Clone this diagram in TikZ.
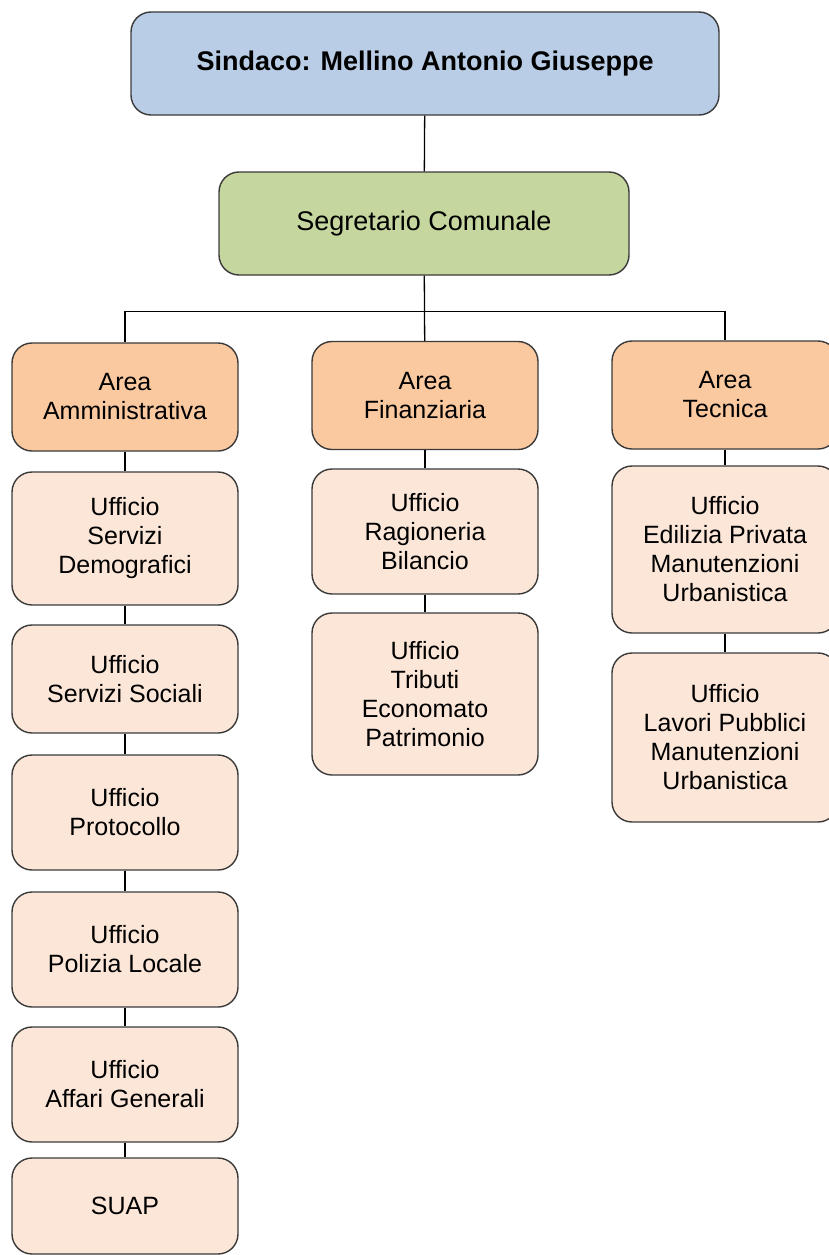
\documentclass[tikz,border=0pt]{standalone}
\usepackage{fontspec}
\setmainfont{Liberation Sans}
\usetikzlibrary{positioning,calc}
\definecolor{cSindaco}{HTML}{BACDE6}
\definecolor{cSegr}{HTML}{C5D79E}
\definecolor{cArea}{HTML}{FBC9A0}
\definecolor{cUff}{HTML}{FCE6D8}
\definecolor{cEdge}{HTML}{3A3A3A}
\tikzset{BOX/.style={rectangle, rounded corners=20pt, draw=cEdge, line width=1.4pt, align=center, inner sep=2pt, minimum width=226pt, font=\fontsize{25}{29}\selectfont}}
\tikzset{TOP/.style={BOX, font=\fontsize{27}{31}\selectfont}}
\tikzset{AREA/.style={BOX, fill=cArea, minimum height=108pt}}
\tikzset{UFF/.style={BOX, fill=cUff}}
\tikzset{LINK/.style={line width=1.3pt, black}}

\begin{document}
\begin{tikzpicture}[x=1pt, y=-1pt]
    \useasboundingbox (0,0) rectangle (829,1255);

    \node[TOP, fill=cSindaco, minimum width=588pt, minimum height=103pt] (n_sindaco) at (425,63.5) {\textbf{Sindaco: Mellino Antonio Giuseppe}};
    \node[TOP, fill=cSegr, minimum width=410pt, minimum height=103pt] (n_segr) at (424,223.5) {Segretario Comunale};

    % aree
    \node[AREA] (n_amm) at (125,397) {Area\\Amministrativa};
    \node[AREA] (n_fin) at (425,395.5) {Area\\Finanziaria};
    \node[AREA] (n_tec) at (725,395) {Area\\Tecnica};

    % uffici area amministrativa
    \node[UFF, minimum height=133pt] (n_demo) at (125,538.5) {Ufficio\\Servizi\\Demografici};
    \node[UFF, minimum height=108pt] (n_soc) at (125,679) {Ufficio\\Servizi Sociali};
    \node[UFF, minimum height=115pt] (n_prot) at (125,812.5) {Ufficio\\Protocollo};
    \node[UFF, minimum height=115pt] (n_pol) at (125,949.5) {Ufficio\\Polizia Locale};
    \node[UFF, minimum height=115pt] (n_aff) at (125,1084.5) {Ufficio\\Affari Generali};
    \node[UFF, minimum height=96pt] (n_suap) at (125,1206) {SUAP};

    % uffici area finanziaria
    \node[UFF, minimum height=125pt] (n_rag) at (425,531.5) {Ufficio\\Ragioneria\\Bilancio};
    \node[UFF, minimum height=162pt] (n_trib) at (425,694) {Ufficio\\Tributi\\Economato\\Patrimonio};

    % uffici area tecnica
    \node[UFF, minimum height=167pt] (n_edil) at (725,549.5) {Ufficio\\Edilizia Privata\\Manutenzioni\\Urbanistica};
    \node[UFF, minimum height=169pt] (n_lav) at (725,737.5) {Ufficio\\Lavori Pubblici\\Manutenzioni\\Urbanistica};

    \coordinate (bus) at ($(n_segr.south)+(0,36)$);
    \draw[LINK] (n_sindaco) -- (n_segr);
    \draw[LINK] (n_segr) -- (n_fin);
    \draw[LINK] (n_amm.north) -- (n_amm.north |- bus) -- (n_tec.north |- bus) -- (n_tec.north);

    \foreach \a/\b in {n_amm/n_demo, n_demo/n_soc, n_soc/n_prot, n_prot/n_pol, n_pol/n_aff, n_aff/n_suap, n_fin/n_rag, n_rag/n_trib, n_tec/n_edil, n_edil/n_lav}
        \draw[LINK] (\a) -- (\b);
\end{tikzpicture}
\end{document}
